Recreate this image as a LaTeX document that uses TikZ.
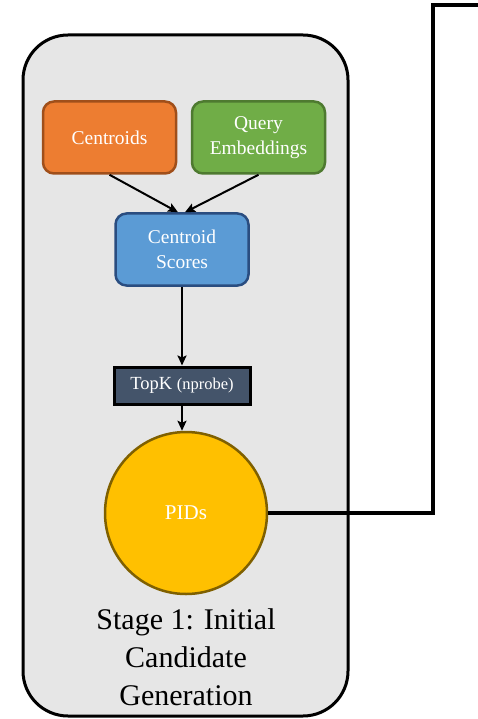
\documentclass[tikz,border=0pt]{standalone}
\usepackage{fontspec}
\setmainfont{Liberation Serif}
\usetikzlibrary{arrows.meta}
\definecolor{panelgray}{HTML}{E6E6E6}
\definecolor{orfill}{HTML}{ED7D31}
\definecolor{ordraw}{HTML}{A04F1A}
\definecolor{grfill}{HTML}{70AD47}
\definecolor{grdraw}{HTML}{4E7A30}
\definecolor{blfill}{HTML}{5B9BD5}
\definecolor{bldraw}{HTML}{2A4D80}
\definecolor{slate}{HTML}{44546A}
\definecolor{goldfill}{HTML}{FFC000}
\definecolor{golddraw}{HTML}{7F6000}
\begin{document}
\begin{tikzpicture}[x=1pt,y=-1pt,
  box/.style={rounded corners=11pt, line width=2.5pt, minimum width=133pt, minimum height=72pt,
    align=center, text=white, font=\fontsize{19.5}{25}\selectfont, inner sep=0pt},
  flow/.style={line width=2pt, -{Stealth[length=10pt,width=9pt,inset=2pt]}},
  link/.style={line width=3.5pt}]
\useasboundingbox (0,0) rectangle (477,719);
% outer stage panel
\draw[line width=3pt, fill=panelgray, rounded corners=45pt] (23,35) rectangle (348,716);
% inputs
\node[box, fill=orfill, draw=ordraw] (cent) at (109.5,137.5) {Centroids};
\node[box, fill=grfill, draw=grdraw] (query) at (258.5,137.5) {Query\\Embeddings};
\node[box, fill=blfill, draw=bldraw] (scores) at (182,249.5) {Centroid\\Scores};
\node[draw=black, line width=3pt, fill=slate, text=white, minimum width=136pt, minimum height=37pt,
  inner sep=0pt, font=\fontsize{18.5}{20}\selectfont] (topk) at (182,385.5) {TopK {\fontsize{16.5}{20}\selectfont(nprobe)}};
\node[circle, fill=goldfill, draw=golddraw, line width=2.5pt, minimum size=162pt, inner sep=0pt,
  text=white, font=\fontsize{21}{25}\selectfont] (pid) at (186,513) {PIDs};
\node[align=center, font=\fontsize{30}{38}\selectfont, text=black] (stage) at (186,657)
  {Stage 1: Initial\\Candidate\\Generation};
% arrows
\draw[flow] (cent.south) -- ([xshift=-4pt]scores.north);
\draw[flow] (query.south) -- ([xshift=3pt]scores.north);
\draw[flow] (scores.south) -- (topk.north);
\draw[flow] (topk.south) -- (pid.north -| topk.south);
% link to the next stage
\coordinate (exit) at (478,5);
\draw[link] (pid.east) -- (433,513) |- (exit);
\end{tikzpicture}
\end{document}
